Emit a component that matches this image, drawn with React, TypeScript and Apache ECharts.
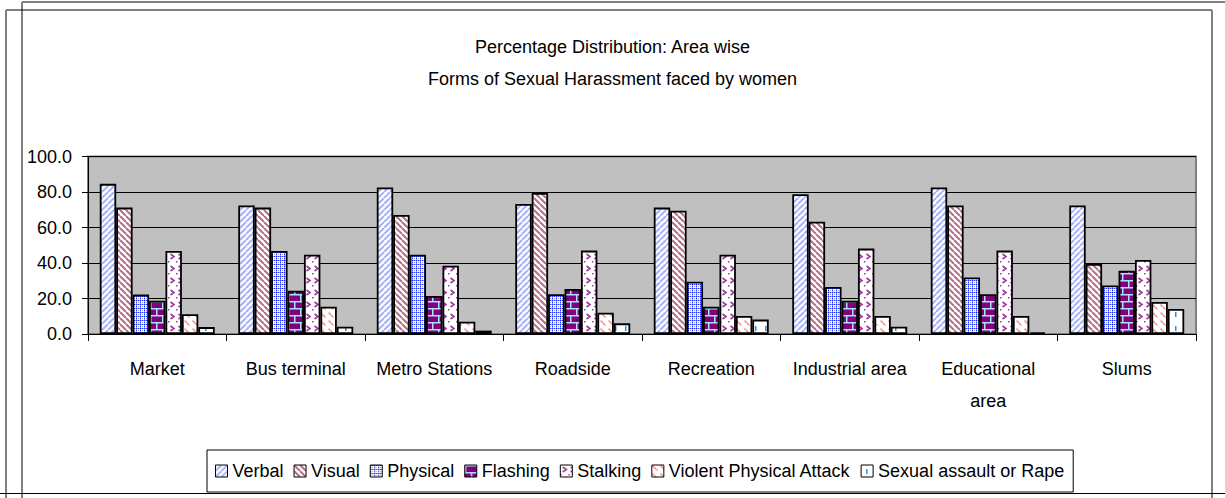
import React, { useEffect, useRef } from "react";
import * as echarts from "echarts";

const categories = ["Market", "Bus terminal", "Metro Stations", "Roadside", "Recreation", "Industrial area", "Educational area", "Slums"];
const xTickLabels = ["Market", "Bus terminal", "Metro Stations", "Roadside", "Recreation", "Industrial area", "Educational\narea", "Slums"];
const seriesNames = ["Verbal", "Visual", "Physical", "Flashing", "Stalking", "Violent Physical Attack", "Sexual assault or Rape"];

const verbal = [84.6, 72.4, 82.5, 73.3, 71.2, 78.8, 82.5, 72.4];
const visual = [71.2, 71.2, 67.1, 79.5, 69.4, 63.2, 72.4, 39.5];
const physical = [22.2, 46.8, 44.7, 22.4, 29.5, 26.5, 31.8, 27.3];
const flashing = [18.8, 24.4, 21.4, 25.4, 15.4, 18.8, 22.4, 35.7];
const stalking = [46.8, 44.7, 38.5, 47.0, 44.7, 48.1, 47.0, 41.7];
const violent = [11.1, 15.4, 6.9, 12.0, 10.2, 10.2, 10.2, 18.0];
const sexual = [3.9, 4.1, 1.9, 6.0, 8.1, 4.1, 0.9, 14.1];

const seriesValues = [verbal, visual, physical, flashing, stalking, violent, sexual];

const yTicks = { min: 0, max: 100, interval: 20 };

const FONT = "'Liberation Sans', Arial, sans-serif";

function makePattern(w: number, h: number, bg: string, draw: (ctx: CanvasRenderingContext2D) => void) {
  const c = document.createElement("canvas");
  c.width = w;
  c.height = h;
  const ctx = c.getContext("2d") as CanvasRenderingContext2D;
  ctx.fillStyle = bg;
  ctx.fillRect(0, 0, w, h);
  draw(ctx);
  return { image: c, repeat: "repeat", imageWidth: w, imageHeight: h } as any;
}

function buildPatterns() {
  const verbalP = makePattern(6, 6, "#ffffff", (ctx) => {
    ctx.strokeStyle = "#A9B3F5";
    ctx.lineWidth = 2;
    for (const k of [-6, 0, 6]) {
      ctx.beginPath();
      ctx.moveTo(k, 6);
      ctx.lineTo(k + 6, 0);
      ctx.stroke();
    }
  });
  const visualP = makePattern(6, 6, "#ffffff", (ctx) => {
    ctx.strokeStyle = "#B5708C";
    ctx.lineWidth = 2;
    for (const k of [-6, 0, 6]) {
      ctx.beginPath();
      ctx.moveTo(k, 0);
      ctx.lineTo(k + 6, 6);
      ctx.stroke();
    }
  });
  const physicalP = makePattern(4, 4, "#ffffff", (ctx) => {
    const dark = "#1E2EFF";
    const light = "#9AA2FF";
    ctx.fillStyle = dark;
    ctx.fillRect(0, 0, 1, 1);
    ctx.fillRect(2, 0, 1, 1);
    ctx.fillRect(0, 2, 1, 1);
    ctx.fillStyle = light;
    ctx.fillRect(1, 0, 1, 1);
    ctx.fillRect(3, 0, 1, 1);
    ctx.fillRect(0, 1, 1, 1);
    ctx.fillRect(0, 3, 1, 1);
    ctx.fillRect(2, 2, 1, 1);
  });
  const flashingP = makePattern(12, 14, "#800080", (ctx) => {
    ctx.fillStyle = "#A8E4F4";
    ctx.fillRect(0, 0, 12, 1.5);
    ctx.fillRect(0, 7, 12, 1.5);
    ctx.fillRect(0, 0, 1.5, 7);
    ctx.fillRect(6, 7, 1.5, 7);
  });
  const stalkingP = makePattern(8, 12, "#ffffff", (ctx) => {
    ctx.strokeStyle = "#9B3D9B";
    ctx.lineWidth = 1.6;
    ctx.beginPath();
    ctx.moveTo(2.5, 2);
    ctx.lineTo(6, 4.5);
    ctx.lineTo(2.5, 7);
    ctx.stroke();
    ctx.fillStyle = "#9B3D9B";
    ctx.fillRect(0, 9, 1.5, 1.5);
  });
  const violentP = makePattern(8, 8, "#ffffff", (ctx) => {
    ctx.strokeStyle = "#FF9696";
    ctx.lineWidth = 1.6;
    ctx.beginPath();
    ctx.moveTo(0.5, 0.5);
    ctx.lineTo(5.5, 5.5);
    ctx.stroke();
  });
  const sexualP = makePattern(10, 14, "#ffffff", (ctx) => {
    ctx.fillStyle = "#2F8BE0";
    ctx.fillRect(5, 4, 1.5, 5);
  });
  return [verbalP, visualP, physicalP, flashingP, stalkingP, violentP, sexualP];
}

export default function App() {
  const ref = useRef<HTMLDivElement>(null);

  useEffect(() => {
    if (!ref.current) return;
    const chart = echarts.init(ref.current, undefined, { renderer: "svg" });
    const patterns = buildPatterns();

    const option: any = {
      animation: false,
      backgroundColor: "#ffffff",
      textStyle: { fontFamily: FONT },
      title: {
        text: "Percentage Distribution: Area wise\nForms of Sexual Harassment faced by women",
        left: "center",
        top: 26,
        textStyle: {
          fontFamily: FONT,
          fontSize: 18,
          fontWeight: "normal",
          color: "#000",
          lineHeight: 32,
        },
      },
      legend: {
        data: seriesNames,
        left: 207,
        top: 450,
        padding: [12, 9, 12, 8],
        itemGap: 10,
        itemWidth: 12,
        itemHeight: 12,
        icon: "rect",
        backgroundColor: "#ffffff",
        borderColor: "#000",
        borderWidth: 1,
        borderRadius: 0,
        itemStyle: { borderColor: "#000", borderWidth: 1 },
        textStyle: { fontFamily: FONT, fontSize: 18, color: "#000" },
      },
      grid: {
        left: 88,
        right: 29,
        top: 156.5,
        bottom: 164,
        show: true,
        backgroundColor: "#C0C0C0",
        borderColor: "#808080",
        borderWidth: 2,
        containLabel: false,
      },
      xAxis: {
        type: "category",
        data: categories,
        axisLine: { show: true, lineStyle: { color: "#000", width: 1 } },
        axisTick: { show: true, length: 7, lineStyle: { color: "#000" } },
        axisLabel: {
          margin: 19,
          fontFamily: FONT,
          fontSize: 18,
          lineHeight: 32,
          color: "#000",
          interval: 0,
          formatter: (_v: string, i: number) => xTickLabels[i],
        },
      },
      yAxis: {
        type: "value",
        min: yTicks.min,
        max: yTicks.max,
        interval: yTicks.interval,
        axisLine: { show: true, lineStyle: { color: "#000", width: 1 } },
        axisTick: { show: true, length: 6, lineStyle: { color: "#000" } },
        splitLine: { show: true, lineStyle: { color: "#000", width: 1 } },
        axisLabel: {
          margin: 16,
          fontFamily: FONT,
          fontSize: 18,
          color: "#000",
          formatter: (v: number) => v.toFixed(1),
        },
      },
      series: seriesNames.map((name, i) => ({
        name,
        type: "bar",
        data: seriesValues[i],
        barGap: "0%",
        barCategoryGap: "17%",
        itemStyle: { color: patterns[i], borderColor: "#000", borderWidth: 1.8 },
        emphasis: { disabled: true },
      })),
      graphic: [
        { type: "line", shape: { x1: 22, y1: 2, x2: 1225, y2: 2 }, style: { stroke: "#000", lineWidth: 1 } },
        { type: "line", shape: { x1: 22, y1: 2, x2: 22, y2: 498 }, style: { stroke: "#808080", lineWidth: 2 } },
        { type: "line", shape: { x1: 6, y1: 10, x2: 1212, y2: 10 }, style: { stroke: "#000", lineWidth: 1 } },
        { type: "line", shape: { x1: 6, y1: 10, x2: 6, y2: 498 }, style: { stroke: "#808080", lineWidth: 2 } },
        { type: "line", shape: { x1: 1212, y1: 10, x2: 1212, y2: 498 }, style: { stroke: "#808080", lineWidth: 2 } },
        { type: "line", shape: { x1: 0, y1: 493.5, x2: 1225, y2: 493.5 }, style: { stroke: "#000", lineWidth: 1 } },
      ],
    };

    chart.setOption(option);
    return () => chart.dispose();
  }, []);

  return (
    <div
      ref={ref}
      style={{ position: "fixed", left: 0, top: 0, width: 1225, height: 498 }}
    />
  );
}
